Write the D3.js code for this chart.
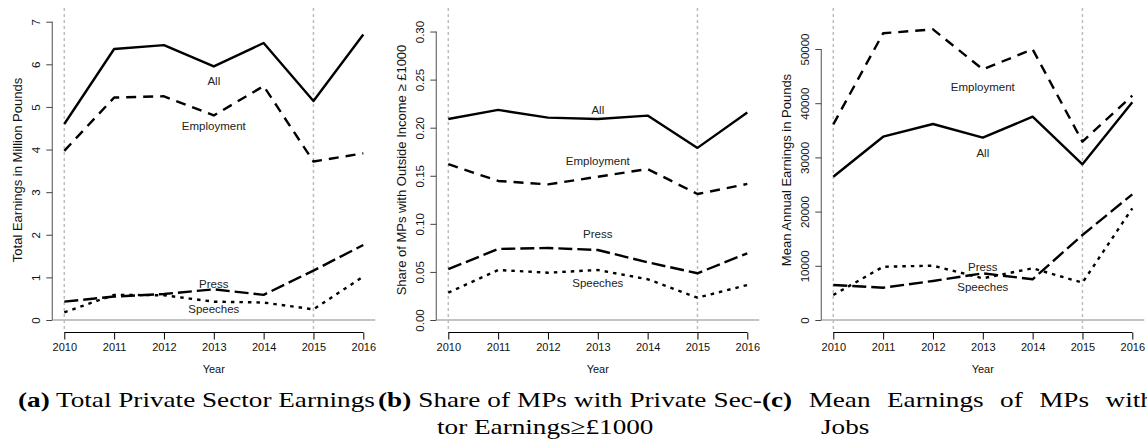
<!DOCTYPE html>
<html>
<head>
<meta charset="utf-8">
<script src="https://cdnjs.cloudflare.com/ajax/libs/d3/7.8.5/d3.min.js"></script>
<style>
  html, body { margin: 0; padding: 0; background: #fff; }
  svg { display: block; }
  .tick-label, .axis-title, .series-label { font-family: "Liberation Sans", Arial, Helvetica, sans-serif; }
  .caption { font-family: "Liberation Serif", "Times New Roman", serif; }
</style>
</head>
<body>
<svg id="chart" width="1147" height="442"></svg>
<script>
// Years on the horizontal axis
const years = [2010, 2011, 2012, 2013, 2014, 2015, 2016];
const seriesNames = ["All", "Employment", "Press", "Speeches"];

// (a) Total private sector earnings, million pounds
const totalAll        = [4.60, 6.36, 6.45, 5.95, 6.50, 5.14, 6.70];
const totalEmployment = [3.97, 5.22, 5.25, 4.80, 5.49, 3.72, 3.91];
const totalPress      = [0.43, 0.55, 0.61, 0.72, 0.59, 1.16, 1.76];
const totalSpeeches   = [0.18, 0.59, 0.58, 0.43, 0.41, 0.25, 1.02];
const totalTicks      = [0, 1, 2, 3, 4, 5, 6, 7];
const totalLabelAt    = [5.62, 4.56, 0.845, 0.26];

// (b) Share of MPs with outside income >= £1000
const shareAll        = [0.209, 0.2185, 0.2105, 0.209, 0.2126, 0.179, 0.2157];
const shareEmployment = [0.162, 0.1446, 0.141, 0.149, 0.157, 0.131, 0.1415];
const sharePress      = [0.0528, 0.0739, 0.0749, 0.0728, 0.060, 0.0486, 0.0694];
const shareSpeeches   = [0.0284, 0.052, 0.0492, 0.052, 0.0424, 0.0232, 0.0364];
const shareTicks      = [0, 0.05, 0.10, 0.15, 0.20, 0.25, 0.30];
const shareLabelAt    = [0.2185, 0.1658, 0.089, 0.0388];

// (c) Mean annual earnings of MPs with jobs, pounds
const meanAll        = [26440, 33820, 36160, 33640, 37510, 28730, 40170];
const meanEmployment = [36100, 52900, 53630, 46250, 49940, 32900, 41390];
const meanPress      = [6460, 5960, 7200, 8620, 7510, 15680, 23190];
const meanSpeeches   = [4610, 9830, 10020, 7690, 9540, 6880, 20610];
const meanTicks      = [0, 10000, 20000, 30000, 40000, 50000];
const meanLabelAt    = [30870, 43050, 9830, 6030];

// Years marked with a vertical reference line
const markedYears = [2010, 2015];

const lineStyles = {
  "All":        { dash: null },
  "Employment": { dash: "10,7" },
  "Press":      { dash: "14,5" },
  "Speeches":   { dash: "3.5,5" }
};

const panels = [
  { left: 52.3, yMax: 7.04, ticks: totalTicks, fmt: d3.format("d"),
    title: "Total Earnings in Million Pounds", labelAt: totalLabelAt,
    series: [totalAll, totalEmployment, totalPress, totalSpeeches] },
  { left: 436.3, yMax: 0.312, ticks: shareTicks, fmt: d3.format(".2f"),
    title: "Share of MPs with Outside Income \u2265 \u00a31000", labelAt: shareLabelAt,
    series: [shareAll, shareEmployment, sharePress, shareSpeeches] },
  { left: 821.3, yMax: 55350, ticks: meanTicks, fmt: d3.format("d"),
    title: "Mean Annual Earnings in Pounds", labelAt: meanLabelAt,
    series: [meanAll, meanEmployment, meanPress, meanSpeeches] }
];

const svg = d3.select("#chart");
const pad = 12;            // plot region extension beyond the data range
const yZero = 320, yTop = 20;
const dataWidth = 299;

panels.forEach(p => {
  const x = d3.scaleLinear().domain([2010, 2016]).range([p.left + pad, p.left + pad + dataWidth]);
  const y = d3.scaleLinear().domain([0, p.yMax]).range([yZero, yTop]);
  const plotLeft = p.left, plotRight = p.left + 2 * pad + dataWidth;
  const plotTop = yTop - pad, plotBottom = yZero + pad;
  const g = svg.append("g");

  // zero reference line
  g.append("line")
    .attr("x1", plotLeft).attr("x2", plotRight)
    .attr("y1", y(0)).attr("y2", y(0))
    .attr("stroke", "#c4c4c4").attr("stroke-width", 2);

  // vertical reference lines
  g.selectAll("line.vref").data(markedYears).join("line")
    .attr("class", "vref")
    .attr("x1", d => x(d)).attr("x2", d => x(d))
    .attr("y1", plotTop).attr("y2", plotBottom)
    .attr("stroke", "#bdbdbd").attr("stroke-width", 1.5)
    .attr("stroke-dasharray", "3,3");

  // y axis
  const yAxis = d3.axisLeft(y).tickValues(p.ticks).tickFormat(p.fmt).tickSize(6).tickSizeOuter(0);
  const ya = g.append("g").attr("transform", `translate(${plotLeft},0)`).call(yAxis);
  ya.select(".domain").attr("stroke", "#6e6e6e").attr("stroke-width", 1.2)
    .attr("d", `M0,${y(p.ticks[0])}V${y(p.ticks[p.ticks.length - 1])}`);
  ya.selectAll(".tick line").attr("stroke", "#444");
  ya.selectAll(".tick text")
    .attr("class", "tick-label")
    .attr("x", null).attr("dy", null)
    .attr("transform", "translate(-12.5,0) rotate(-90)")
    .attr("text-anchor", "middle")
    .attr("font-size", 11.5).attr("fill", "#111");

  // x axis
  const xAxis = d3.axisBottom(x).tickValues(years).tickFormat(d3.format("d")).tickSize(7).tickSizeOuter(0);
  const xa = g.append("g").attr("transform", `translate(0,${plotBottom + 0.5})`).call(xAxis);
  xa.select(".domain").attr("stroke", "#000")
    .attr("d", `M${x(2010)},0H${x(2016)}`);
  xa.selectAll(".tick text")
    .attr("class", "tick-label")
    .attr("y", 11).attr("font-size", 11).attr("fill", "#111");

  // axis titles
  g.append("text").attr("class", "axis-title")
    .attr("transform", `translate(${plotLeft - 30},${(plotTop + plotBottom) / 2}) rotate(-90)`)
    .attr("text-anchor", "middle").attr("font-size", 13).attr("fill", "#111")
    .text(p.title);
  g.append("text").attr("class", "axis-title")
    .attr("x", (plotLeft + plotRight) / 2).attr("y", 373)
    .attr("text-anchor", "middle").attr("font-size", 11).attr("fill", "#111")
    .text("Year");

  // series lines
  const line = d3.line().x((d, i) => x(years[i])).y(d => y(d));
  p.series.forEach((vals, k) => {
    g.append("path")
      .attr("d", line(vals))
      .attr("fill", "none").attr("stroke", "#000")
      .attr("stroke-width", 2.4)
      .attr("stroke-linejoin", "round")
      .attr("stroke-dasharray", lineStyles[seriesNames[k]].dash);
  });

  // series labels
  seriesNames.forEach((name, k) => {
    g.append("text").attr("class", "series-label")
      .attr("x", x(2013)).attr("y", y(p.labelAt[k]))
      .attr("text-anchor", "middle").attr("dominant-baseline", "central")
      .attr("font-size", 11.5).attr("fill", "#222")
      .text(name);
  });
});

// Sub-figure captions: first line set to the column width (justified),
// second line indented under the text that follows the label.
const captions = [
  { x: 18,  width: 357, label: "(a)", line1: "Total Private Sector Earnings", line2: null },
  { x: 378, width: 384, label: "(b)", line1: "Share of MPs with Private Sec-", line2: "tor Earnings\u2265\u00a31000" },
  { x: 762, width: 392, label: "(c)", line1: "Mean Earnings of MPs with", line2: "Jobs" }
];
const capSize = 22, capBase1 = 407, capBase2 = 434, capIndent = 59;

function captionLine(c) {
  const t = svg.append("text").attr("class", "caption")
    .attr("x", 0).attr("y", 0).attr("font-size", capSize).attr("fill", "#000");
  t.append("tspan").attr("font-weight", "bold").text(c.label);
  t.append("tspan").text(" " + c.line1);
  return t;
}

// horizontal stretch taken from the first caption, which fills its line naturally
const first = captionLine(captions[0]);
const sx = captions[0].width / first.node().getComputedTextLength();
first.remove();

captions.forEach(c => {
  const t = captionLine(c);
  const natural = t.node().getComputedTextLength();
  const spaces = (c.label + " " + c.line1).split(" ").length - 1;
  const extra = Math.max(0, (c.width / sx - natural) / spaces);
  t.attr("word-spacing", extra)
    .attr("transform", `translate(${c.x},${capBase1}) scale(${sx},1)`);
  if (c.line2) {
    svg.append("text").attr("class", "caption")
      .attr("transform", `translate(${c.x + capIndent},${capBase2}) scale(${sx},1)`)
      .attr("font-size", capSize).attr("fill", "#000")
      .text(c.line2);
  }
});
</script>
</body>
</html>
